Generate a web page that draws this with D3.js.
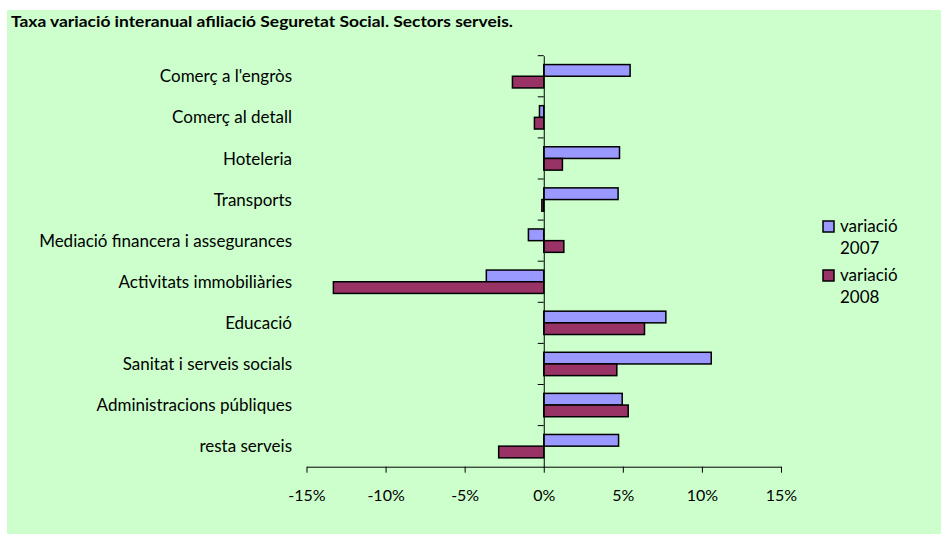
<!DOCTYPE html>
<html>
<head>
<meta charset="utf-8">
<script src="https://cdn.jsdelivr.net/npm/d3@7"></script>
<style>
  body { margin: 0; background: #fff; }
  text { font-family: Lato, "Open Sans", sans-serif; fill: #000; }
</style>
</head>
<body>
<svg id="chart" width="941" height="534"></svg>
<script>
let categories = ["Comerç a l'engròs", "Comerç al detall", "Hoteleria", "Transports",
    "Mediació financera i assegurances", "Activitats immobiliàries", "Educació",
    "Sanitat i serveis socials", "Administracions públiques", "resta serveis"]
let series = ["variació 2007", "variació 2008"]
let values2007 = [5.46, -0.27, 4.79, 4.70, -0.97, -3.63, 7.72, 10.59, 4.96, 4.73]
let values2008 = [-1.98, -0.59, 1.18, -0.12, 1.27, -13.3, 6.37, 4.62, 5.34, -2.85]
let xTicks = [-15, -10, -5, 0, 5, 10, 15]
let colors = ["#9999FF", "#993366"]

let svg = d3.select("#chart")

// fons verd
svg.append("rect")
    .attr("x", 7).attr("y", 10)
    .attr("width", 934).attr("height", 524)
    .attr("fill", "#CCFFCC")

// títol
svg.append("text")
    .attr("x", 11).attr("y", 27)
    .attr("textLength", 502)
    .attr("lengthAdjust", "spacingAndGlyphs")
    .style("font-size", "15px")
    .style("font-weight", "bold")
    .text("Taxa variació interanual afiliació Seguretat Social. Sectors serveis.")

let xScale = d3.scaleLinear().domain([-15, 15]).range([306.5, 781])
let yScale = d3.scaleBand().domain(categories).range([55.7, 466.7])
let subScale = d3.scaleBand().domain(series).range([0, yScale.bandwidth()]).paddingOuter(0.76)

let data = categories.map((c, i) => ({ cat: c, vals: [values2007[i], values2008[i]] }))

// barres
let groups = svg.append("g").selectAll("g")
    .data(data).enter().append("g")
    .attr("transform", d => "translate(0," + yScale(d.cat) + ")")

groups.selectAll("rect")
    .data(d => d.vals.map((v, j) => ({ v: v, s: series[j], j: j })))
    .enter().append("rect")
    .attr("x", d => xScale(Math.min(0, d.v)))
    .attr("width", d => Math.abs(xScale(d.v) - xScale(0)))
    .attr("y", d => subScale(d.s))
    .attr("height", subScale.bandwidth())
    .attr("fill", d => colors[d.j])
    .attr("stroke", "#000")
    .attr("stroke-width", 1.5)

// eix x
let xAxis = svg.append("g")
    .attr("transform", "translate(0," + 466.7 + ")")
    .call(d3.axisBottom(xScale).tickValues(xTicks).tickSize(6).tickSizeOuter(0)
        .tickFormat(d => d + "%"))
xAxis.select(".domain").attr("stroke", "#000")
xAxis.selectAll("line").attr("stroke", "#000")
xAxis.selectAll("text")
    .attr("y", 34)
    .attr("dy", 0)
    .style("font-size", "16px")
    .style("font-family", "Lato, sans-serif")
    .attr("fill", "#000")

// eix y (línia en el zero)
let yAxis = svg.append("g")
    .attr("transform", "translate(" + xScale(0) + ",0)")
    .call(d3.axisLeft(yScale).tickSize(6).tickSizeOuter(0).tickFormat(""))
yAxis.select(".domain").attr("stroke", "#000")
yAxis.selectAll(".tick line")
    .attr("transform", d => "translate(0," + (-yScale.bandwidth() / 2) + ")")
    .attr("stroke", "#000")

// etiquetes de categoria
svg.append("g").selectAll("text")
    .data(categories).enter().append("text")
    .attr("x", 292)
    .attr("y", d => yScale(d) + yScale.bandwidth() / 2)
    .attr("dy", "0.36em")
    .attr("text-anchor", "end")
    .style("font-size", "17px")
    .text(d => d)

// llegenda
let legend = svg.append("g").selectAll("g")
    .data(series).enter().append("g")
    .attr("transform", (d, i) => "translate(823," + (221 + i * 49) + ")")
legend.append("rect")
    .attr("width", 11).attr("height", 11)
    .attr("fill", (d, i) => colors[i])
    .attr("stroke", "#000").attr("stroke-width", 1.5)
legend.append("text")
    .attr("x", 17).attr("y", 11)
    .style("font-size", "17px")
    .text(d => d.split(" ")[0])
legend.append("text")
    .attr("x", 17).attr("y", 33)
    .style("font-size", "17px")
    .text(d => d.split(" ")[1])
</script>
</body>
</html>
